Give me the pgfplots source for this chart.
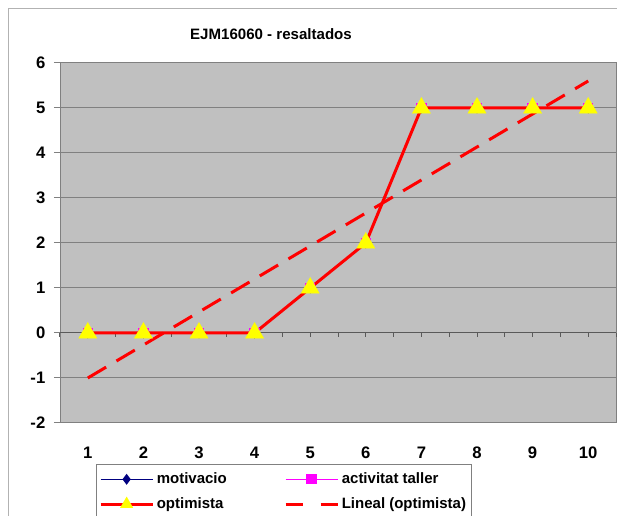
\documentclass[border=0pt]{standalone}
\usepackage{pgfplots}
\pgfplotsset{compat=1.18}
\usepackage{fontspec}
\setmainfont{Liberation Sans}
\definecolor{plotbg}{HTML}{C0C0C0}
\definecolor{gridc}{HTML}{808080}
\definecolor{navyc}{HTML}{000080}
\definecolor{magc}{HTML}{FF00FF}
\definecolor{yelc}{HTML}{FFFF00}
\definecolor{redc}{HTML}{FF0000}
\pgfplotsset{
  trileg/.style={legend image code/.code={\draw[mark repeat=2, mark phase=2, ##1, mark size=5.5pt] plot coordinates {(0pt,0pt) (19.5pt,0pt) (39pt,0pt)};}},
  dashleg/.style={legend image code/.code={\draw[##1, dash pattern=on 12.75pt off 13.5pt] (0pt,0pt) -- (39pt,0pt);}},
}
\begin{document}
\begin{tikzpicture}
\useasboundingbox (-45pt,-69.75pt) rectangle (417.75pt,317.25pt);
\draw[gray!60, line width=0.75pt] (-38.25pt,-70pt) -- (-38.25pt,310.5pt) -- (418pt,310.5pt);
\node[font=\fontsize{11.3}{13}\selectfont\bfseries] at (158.25pt,291.75pt) {EJM16060 - resaltados};
% background axis: fill, grid, y ticks, labels
\begin{axis}[
  at={(0pt,0pt)}, anchor=south west,
  scale only axis, width=417pt, height=270pt,
  xmin=0.5, xmax=10.5, ymin=-2, ymax=6,
  xtick={1,...,10}, ytick={-2,...,6},
  major x tick style={draw=none},
  y tick style={gridc, line width=0.75pt},
  tick align=outside, major tick length=4.5pt,
  ymajorgrids, grid style={gridc, line width=0.75pt},
  axis line style={gridc, line width=0.75pt},
  axis background/.style={fill=plotbg},
  /pgf/number format/assume math mode=true,
  tick label style={font=\fontsize{12.5}{14}\selectfont\bfseries},
  xticklabel style={yshift=-10pt},
  yticklabel style={xshift=-3pt},
]
\end{axis}
% data axis with the y=0 category axis line
\begin{axis}[
  at={(0pt,0pt)}, anchor=south west,
  scale only axis, width=417pt, height=270pt,
  xmin=0.5, xmax=10.5, ymin=-2, ymax=6,
  axis x line=middle, axis y line=none,
  axis line style={-, gridc!70!black, line width=0.75pt},
  xtick={0.5,1,...,10.5}, xticklabels={},
  x tick style={gridc!70!black, line width=0.75pt},
  tick align=outside, major tick length=3pt,
  clip=false,
  legend columns=2,
  legend style={at={(0.0647,-0.1139)}, anchor=north west,
    draw=gridc, fill=white, line width=0.75pt,
    font=\fontsize{11.25}{13}\selectfont\bfseries,
    cells={anchor=west},
    inner xsep=2pt, inner ysep=4.25pt, row sep=5pt,
    /tikz/column 2/.style={column sep=41pt}},
  legend image code/.code={\draw[mark repeat=2, mark phase=2, #1] plot coordinates {(0pt,0pt) (19.5pt,0pt) (39pt,0pt)};},
]
\addplot[navyc, line width=0.75pt, mark=diamond*, mark size=3.5pt, mark options={fill=navyc, draw=navyc}]
  coordinates {(1,0) (2,0) (3,0) (4,0) (5,1) (6,2) (7,5) (8,5) (9,5) (10,5)};
\addlegendentry{motivacio}
\addplot[magc, line width=0.75pt, mark=square*, mark size=3.5pt, mark options={fill=magc, draw=magc}]
  coordinates {(1,0) (2,0) (3,0) (4,0) (5,1) (6,2) (7,5) (8,5) (9,5) (10,5)};
\addlegendentry{activitat taller}
\addplot[redc, line width=2.25pt, mark=triangle*, mark size=8pt, mark options={fill=yelc, draw=yelc, line width=0.1pt}, trileg]
  coordinates {(1,0) (2,0) (3,0) (4,0) (5,1) (6,2) (7,5) (8,5) (9,5) (10,5)};
\addlegendentry{optimista}
\addplot[redc, line width=2.25pt, dash pattern=on 16pt off 9pt, dashleg]
  coordinates {(1,-1) (10,5.6)};
\addlegendentry{Lineal (optimista)}
\end{axis}
\end{tikzpicture}
\end{document}
